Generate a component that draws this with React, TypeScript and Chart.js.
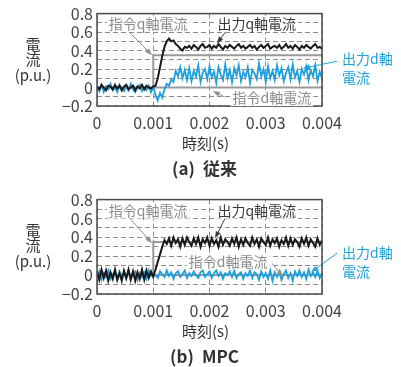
import React, { useEffect, useRef } from 'react';
import { Chart, registerables } from 'chart.js';

Chart.register(...registerables);

// ---- data ----
const TIME_STEP = 0.00004; // sampling period of the recorded traces (s)
const xTickValues = [0, 0.001, 0.002, 0.003, 0.004];
const yGridValues = [-0.2, -0.1, 0, 0.1, 0.2, 0.3, 0.4, 0.5, 0.6, 0.7, 0.8];
const yTickLabels: Record<string, string> = {
  '-0.2': '−0.2', '0.0': '0', '0.2': '0.2', '0.4': '0.4', '0.6': '0.6', '0.8': '0.8',
};

// (a) conventional
const convQ = [
  0.01, -0.02, 0.03, 0.00, -0.03, 0.02, 0.01, -0.02, 0.03, -0.01,
  0.02, -0.03, 0.01, 0.03, -0.02, 0.00, 0.02, -0.03, 0.01, -0.01,
  0.03, -0.02, 0.02, 0.00, -0.01, 0.01, 0.02, 0.10, 0.22, 0.34,
  0.44, 0.50, 0.53, 0.50, 0.51, 0.47, 0.45, 0.42, 0.40, 0.44,
  0.43, 0.45, 0.42, 0.46, 0.44, 0.41, 0.45, 0.47, 0.43, 0.44,
  0.46, 0.42, 0.45, 0.43, 0.47, 0.44, 0.41, 0.45, 0.43, 0.46,
  0.44, 0.42, 0.45, 0.47, 0.43, 0.45, 0.42, 0.44, 0.46, 0.43,
  0.45, 0.41, 0.44, 0.46, 0.43, 0.45, 0.47, 0.42, 0.44, 0.45,
  0.43, 0.46, 0.42, 0.44, 0.47, 0.43, 0.45, 0.42, 0.46, 0.44,
  0.41, 0.45, 0.43, 0.46, 0.44, 0.42, 0.45, 0.47, 0.43, 0.44,
  0.42,
];
const convD = [
  0.02, -0.04, 0.03, -0.05, 0.01, -0.02, 0.04, -0.03, 0.00, -0.05,
  0.03, -0.01, -0.04, 0.02, -0.03, 0.04, -0.02, -0.05, 0.01, 0.03,
  -0.04, 0.00, -0.03, 0.02, -0.05, 0.01, -0.08, -0.14, -0.06, -0.11,
  -0.02, 0.04, 0.02, 0.09, 0.06, 0.18, 0.12, 0.22, 0.10, 0.19,
  0.08, 0.21, 0.07, 0.18, 0.12, 0.24, 0.06, 0.16, 0.20, 0.09,
  0.23, 0.11, 0.17, 0.05, 0.22, 0.14, 0.08, 0.25, 0.10, 0.19,
  0.06, 0.21, 0.13, 0.24, 0.07, 0.17, 0.11, 0.22, 0.05, 0.19,
  0.15, 0.09, 0.26, 0.12, 0.20, 0.06, 0.23, 0.10, 0.18, 0.08,
  0.24, 0.13, 0.21, 0.07, 0.16, 0.22, 0.09, 0.25, 0.11, 0.18,
  0.06, 0.20, 0.14, 0.23, 0.08, 0.19, 0.12, 0.24, 0.07, 0.17,
  0.10,
];
// (b) MPC
const mpcQ = [
  0.04, -0.05, 0.06, -0.03, 0.05, -0.06, 0.03, -0.04, 0.06, -0.05,
  0.02, -0.06, 0.05, -0.03, 0.06, -0.05, 0.04, -0.06, 0.03, -0.04,
  0.06, -0.05, 0.05, -0.03, 0.04, -0.02, 0.06, 0.14, 0.22, 0.30,
  0.37, 0.33, 0.39, 0.31, 0.40, 0.34, 0.38, 0.30, 0.39, 0.32,
  0.40, 0.35, 0.31, 0.39, 0.33, 0.40, 0.30, 0.38, 0.34, 0.40,
  0.31, 0.39, 0.33, 0.37, 0.30, 0.40, 0.32, 0.38, 0.35, 0.31,
  0.39, 0.33, 0.40, 0.30, 0.38, 0.32, 0.39, 0.34, 0.31, 0.40,
  0.33, 0.38, 0.30, 0.39, 0.35, 0.32, 0.40, 0.31, 0.38, 0.34,
  0.39, 0.30, 0.37, 0.33, 0.40, 0.31, 0.39, 0.32, 0.38, 0.35,
  0.30, 0.39, 0.33, 0.40, 0.31, 0.38, 0.34, 0.30, 0.39, 0.32,
  0.37,
];
const mpcD = [
  -0.03, 0.04, -0.05, 0.02, -0.02, 0.05, -0.04, 0.01, 0.03, -0.05,
  0.04, -0.01, 0.02, -0.04, 0.05, -0.03, 0.01, 0.04, -0.05, 0.02,
  -0.02, 0.03, -0.04, 0.05, -0.01, 0.02, 0.00, -0.03, 0.04, 0.01,
  -0.02, 0.05, -0.01, 0.03, -0.04, 0.02, 0.04, -0.02, 0.01, 0.05,
  -0.03, 0.02, -0.01, 0.04, 0.00, -0.03, 0.03, 0.05, -0.02, 0.01,
  0.04, -0.03, 0.02, 0.05, -0.01, 0.03, -0.04, 0.02, 0.00, 0.04,
  -0.02, 0.05, -0.03, 0.01, 0.03, -0.04, 0.02, -0.01, 0.05, -0.03,
  0.03, 0.01, -0.05, 0.04, -0.02, 0.02, -0.04, 0.05, -0.06, 0.03,
  -0.02, 0.04, -0.05, 0.01, 0.05, -0.03, 0.02, -0.06, 0.04, -0.01,
  0.05, -0.02, 0.03, -0.04, 0.06, -0.01, 0.03, -0.02, 0.05, -0.03,
  0.02,
];
// commands
const cmdQTimes = [0, 0.001, 0.001, 0.004];
const cmdQValues = [0, 0, 0.35, 0.35];
const cmdDTimes = [0, 0.004];
const cmdDValues = [0, 0];

// ---- styles ----
const FONT = '"Noto Sans CJK JP", "Noto Sans", sans-serif';
const BLACK = '#1a1a1a';
const BLUE = '#1ea0dc';
const GRAY = '#9a9a9a';
const LABEL_GRAY = '#8a8a8a';
const DARK = '#3a3a3a';

type Note = {
  lines: string[];
  x: number;
  y: number;
  align: 'center' | 'left';
  color: string;
  from: [number, number];
  to: [number, number];
};

const notesA: Note[] = [
  { lines: ['指令q軸電流'], x: 0.00091, y: 0.69, align: 'center', color: LABEL_GRAY, from: [0.00058, 0.596], to: [0.00098, 0.35] },
  { lines: ['出力q軸電流'], x: 0.00284, y: 0.69, align: 'center', color: DARK, from: [0.00228, 0.596], to: [0.00213, 0.477] },
  { lines: ['指令d軸電流'], x: 0.00311, y: -0.114, align: 'center', color: LABEL_GRAY, from: [0.00227, -0.103], to: [0.00206, -0.039] },
  { lines: ['出力d軸', '電流'], x: 0.004356, y: 0.316, align: 'left', color: BLUE, from: [0.004267, 0.284], to: [0.00366, 0.209] },
];
const notesB: Note[] = [
  { lines: ['指令q軸電流'], x: 0.00091, y: 0.684, align: 'center', color: LABEL_GRAY, from: [0.000587, 0.6], to: [0.000978, 0.337] },
  { lines: ['出力q軸電流'], x: 0.00284, y: 0.684, align: 'center', color: DARK, from: [0.002276, 0.6], to: [0.002098, 0.39] },
  { lines: ['指令d軸電流'], x: 0.00233, y: 0.147, align: 'center', color: LABEL_GRAY, from: [0.003111, 0.126], to: [0.003307, -0.021] },
  { lines: ['出力d軸', '電流'], x: 0.004356, y: 0.242, align: 'left', color: BLUE, from: [0.004267, 0.232], to: [0.003804, 0.032] },
];

const toPoints = (vals: number[]) => vals.map((v, i) => ({ x: i * TIME_STEP, y: v }));
const pair = (xs: number[], ys: number[]) => xs.map((x, i) => ({ x, y: ys[i] }));

function drawArrow(ctx: CanvasRenderingContext2D, x1: number, y1: number, x2: number, y2: number, color: string) {
  const ang = Math.atan2(y2 - y1, x2 - x1);
  const len = 7;
  const hw = 2.6;
  ctx.save();
  ctx.strokeStyle = color;
  ctx.fillStyle = color;
  ctx.lineWidth = 1;
  ctx.beginPath();
  ctx.moveTo(x1, y1);
  ctx.lineTo(x2 - Math.cos(ang) * len * 0.8, y2 - Math.sin(ang) * len * 0.8);
  ctx.stroke();
  ctx.beginPath();
  ctx.moveTo(x2, y2);
  ctx.lineTo(x2 - Math.cos(ang) * len - Math.sin(ang) * hw, y2 - Math.sin(ang) * len + Math.cos(ang) * hw);
  ctx.lineTo(x2 - Math.cos(ang) * len + Math.sin(ang) * hw, y2 - Math.sin(ang) * len - Math.cos(ang) * hw);
  ctx.closePath();
  ctx.fill();
  ctx.restore();
}

type PanelProps = {
  q: number[];
  d: number[];
  notes: Note[];
  tag: string;
  title: string;
  height: number;
  plotBottom: number;
  top: number;
};

function Panel({ q, d, notes, tag, title, height, plotBottom, top }: PanelProps) {
  const ref = useRef<HTMLCanvasElement>(null);
  useEffect(() => {
    const canvas = ref.current;
    if (!canvas) return;
    const overlay = {
      id: 'overlay',
      afterDraw(chart: any) {
        const { ctx, chartArea: a, scales } = chart;
        const sx = scales.x;
        const sy = scales.y;
        // frame
        ctx.save();
        ctx.strokeStyle = '#4a4a4a';
        ctx.lineWidth = 1.5;
        ctx.strokeRect(a.left, a.top, a.right - a.left, a.bottom - a.top);
        ctx.restore();
        // notes
        ctx.save();
        ctx.font = `14px ${FONT}`;
        ctx.textBaseline = 'middle';
        notes.forEach((n) => {
          const col = n.color === BLUE ? BLUE : (n.color === DARK ? DARK : '#8f8f8f');
          drawArrow(ctx, sx.getPixelForValue(n.from[0]), sy.getPixelForValue(n.from[1]),
            sx.getPixelForValue(n.to[0]), sy.getPixelForValue(n.to[1]), col);
          const px = sx.getPixelForValue(n.x);
          const py = sy.getPixelForValue(n.y);
          n.lines.forEach((line, li) => {
            const w = ctx.measureText(line).width;
            const ly = py + li * 19;
            const left = n.align === 'center' ? px - w / 2 : px;
            ctx.fillStyle = '#ffffff';
            ctx.fillRect(left - 2, ly - 8, w + 4, 16);
            ctx.fillStyle = n.color;
            ctx.textAlign = 'left';
            ctx.fillText(line, left, ly);
          });
        });
        ctx.restore();
        // axis titles
        ctx.save();
        ctx.fillStyle = '#333333';
        ctx.textAlign = 'center';
        ctx.textBaseline = 'middle';
        ctx.font = `15px ${FONT}`;
        ctx.fillText('電', 33, a.top + 31);
        ctx.fillText('流', 33, a.top + 46);
        ctx.fillText('(p.u.)', 33, a.top + 62);
        ctx.fillText('時刻(s)', (a.left + a.right) / 2 - 4, a.bottom + 37);
        ctx.font = `bold 17px ${FONT}`;
        const tw = ctx.measureText(tag).width;
        const gw = 8;
        ctx.font = `bold 17px ${FONT}`;
        const ttw = ctx.measureText(title).width;
        const total = tw + gw + ttw;
        const cx = (a.left + a.right) / 2 - 5;
        ctx.textAlign = 'left';
        ctx.fillText(tag, cx - total / 2, a.bottom + 63);
        ctx.fillText(title, cx - total / 2 + tw + gw, a.bottom + 63);
        ctx.restore();
      },
    };
    const chart = new Chart(canvas, {
      type: 'line',
      data: {
        datasets: [
          { data: toPoints(q), borderColor: BLACK, borderWidth: 2, pointRadius: 0, order: 0 },
          { data: toPoints(d), borderColor: BLUE, borderWidth: 1.8, pointRadius: 0, order: 1 },
          { data: pair(cmdQTimes, cmdQValues), borderColor: GRAY, borderWidth: 2, pointRadius: 0, order: 2 },
          { data: pair(cmdDTimes, cmdDValues), borderColor: GRAY, borderWidth: 2, pointRadius: 0, order: 3 },
        ],
      },
      options: {
        responsive: false,
        animation: false,
        devicePixelRatio: 1,
        layout: { padding: { left: 0, right: 79, top: 13, bottom: 0 } },
        plugins: { legend: { display: false }, tooltip: { enabled: false } },
        elements: { line: { tension: 0 } },
        scales: {
          x: {
            type: 'linear',
            min: 0,
            max: 0.004,
            afterBuildTicks: (s: any) => { s.ticks = xTickValues.map((v) => ({ value: v })); },
            afterFit: (s: any) => { s.height = height - plotBottom; },
            grid: { color: '#8c8c8c', lineWidth: 1, drawTicks: false },
            border: { display: false, dash: [5, 3] },
            ticks: {
              autoSkip: false,
              maxRotation: 0,
              padding: 7,
              color: '#444444',
              font: { family: FONT, size: 16 },
              callback: (v: any) => (Number(v) === 0 ? '0' : Number(v).toFixed(3)),
            },
          },
          y: {
            type: 'linear',
            min: -0.2,
            max: 0.8,
            afterBuildTicks: (s: any) => { s.ticks = yGridValues.map((v) => ({ value: v })); },
            afterFit: (s: any) => { s.width = 97; },
            grid: { color: '#8c8c8c', lineWidth: 1, drawTicks: false },
            border: { display: false, dash: [5, 3] },
            ticks: {
              autoSkip: false,
              padding: 4,
              color: '#444444',
              font: { family: FONT, size: 16 },
              callback: (v: any) => yTickLabels[Number(v).toFixed(1)] ?? '',
            },
          },
        },
      },
      plugins: [overlay],
    } as any);
    return () => chart.destroy();
  }, []);
  return (
    <canvas
      ref={ref}
      width={401}
      height={height}
      style={{ position: 'absolute', left: 0, top, width: 401, height, display: 'block' }}
    />
  );
}

export default function App() {
  return (
    <div style={{ position: 'fixed', left: 0, top: 0, width: 401, height: 367, background: '#ffffff', overflow: 'hidden' }}>
      <Panel q={convQ} d={convD} notes={notesA} tag="(a)" title="従来" height={186} plotBottom={106} top={0} />
      <Panel q={mpcQ} d={mpcD} notes={notesB} tag="(b)" title="MPC" height={181} plotBottom={108} top={186} />
    </div>
  );
}
